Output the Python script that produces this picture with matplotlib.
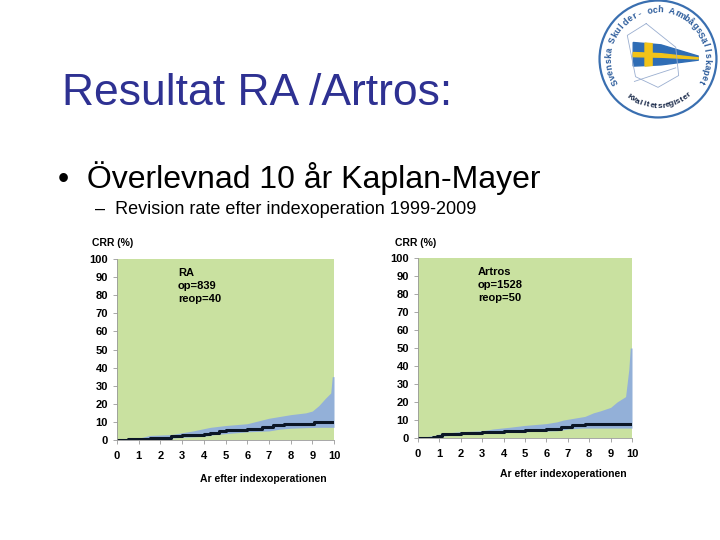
import numpy as np
import matplotlib
matplotlib.use("Agg")
from matplotlib import pyplot as plt
from matplotlib.patches import Circle, Polygon

plt.rcParams['font.family'] = ['Liberation Sans', 'DejaVu Sans']

# Kaplan-Meier cumulative revision rate, RA
ra_km_x = [0, 0.5, 1.0, 1.5, 2.0, 2.5, 3.0, 4.0, 4.3, 4.7, 5.0, 5.5, 6.0, 6.7, 7.2, 7.7, 9.1, 10]
ra_km_y = [0, 0.3, 0.5, 1.0, 1.2, 2.0, 3.0, 3.3, 4.0, 5.0, 5.3, 5.6, 6.3, 7.2, 8.2, 9.0, 10.0, 10.0]
ra_hi_x = [0, 1.0, 1.5, 2.5, 3.0, 3.5, 4.3, 5.0, 6.0, 6.5, 7.0, 7.5, 8.0, 8.7, 9.0, 9.3, 9.6, 9.85, 9.92, 10]
ra_hi_y = [0, 1.0, 2.5, 3.0, 4.0, 5.0, 7.0, 8.0, 9.0, 10.5, 12.0, 13.0, 14.0, 15.0, 16.0, 19.0, 23.0, 26.0, 35.0, 35.0]
ra_lo_x = [0, 1.0, 2.5, 3.0, 4.0, 4.5, 5.5, 6.0, 7.0, 7.5, 8.0, 9.2, 10]
ra_lo_y = [0, 0.2, 1.0, 1.5, 2.0, 3.0, 4.0, 4.5, 5.0, 6.0, 6.5, 7.0, 7.0]

# Kaplan-Meier cumulative revision rate, Artros
ar_km_x = [0, 0.7, 0.9, 1.1, 1.5, 2.0, 3.0, 3.5, 4.0, 5.0, 6.0, 6.7, 7.2, 7.8, 10]
ar_km_y = [0, 0.5, 1.0, 2.0, 2.5, 3.0, 3.2, 3.5, 4.0, 4.5, 5.0, 6.0, 7.0, 8.0, 8.0]
ar_hi_x = [0, 0.8, 1.1, 1.5, 2.0, 3.0, 3.5, 4.3, 5.0, 6.0, 6.5, 6.8, 7.3, 7.8, 8.2, 8.5, 9.0, 9.3, 9.7, 9.85, 9.92, 10]
ar_hi_y = [0, 1.5, 2.5, 3.0, 3.5, 4.0, 5.0, 6.0, 7.0, 8.0, 9.0, 10.0, 11.0, 12.0, 14.0, 15.0, 17.0, 20.0, 23.0, 38.0, 50.0, 50.0]
ar_lo_x = [0, 1.1, 2.0, 3.0, 4.0, 5.0, 6.5, 7.0, 7.7, 10]
ar_lo_y = [0, 1.0, 2.0, 2.5, 3.0, 3.5, 4.0, 5.0, 5.5, 5.5]

xticks = list(range(0, 11))
yticks = list(range(0, 101, 10))

GREEN = "#c9e1a0"
BAND = "#93b0d8"
LINE = "#0b1626"
LOGO = "#2a5a9a"


def km_panel(ax, km_x, km_y, hi_x, hi_y, lo_x, lo_y, lines):
    grid = np.linspace(0, 10, 1001)
    hi = np.interp(grid, hi_x, hi_y)
    lo = np.interp(grid, lo_x, lo_y)
    ax.set_facecolor(GREEN)
    ax.fill_between(grid, lo, hi, color=BAND, linewidth=0)
    ax.step(km_x, km_y, where="post", color=LINE, linewidth=2.2)
    ax.set_xlim(0, 10)
    ax.set_ylim(0, 100)
    ax.set_xticks(xticks)
    ax.set_yticks(yticks)
    ax.tick_params(labelsize=8, length=3, color="#999999", width=0.6)
    ax.tick_params(axis="x", pad=5)
    for lbl in ax.get_xticklabels() + ax.get_yticklabels():
        lbl.set_fontweight("bold")
    for s in ("top", "right"):
        ax.spines[s].set_visible(False)
    for s in ("left", "bottom"):
        ax.spines[s].set_color("#999999")
        ax.spines[s].set_linewidth(0.6)
    ax.text(2.8, 95, lines, fontsize=8, fontweight="bold", va="top", linespacing=1.35)


fig = plt.figure(figsize=(7.2, 5.4), dpi=100)

fig.text(62 / 720, 1 - 93 / 540, "Resultat RA /Artros:", fontsize=32, color="#2e3192", va="center")
fig.text(58 / 720, 1 - 178 / 540, "•  Överlevnad 10 år Kaplan-Mayer", fontsize=23, va="center")
fig.text(95 / 720, 1 - 209 / 540, "–  Revision rate efter indexoperation 1999-2009", fontsize=13, va="center")

ax1 = fig.add_axes([117 / 720, 1 - 440 / 540, 217 / 720, 181 / 540])
km_panel(ax1, ra_km_x, ra_km_y, ra_hi_x, ra_hi_y, ra_lo_x, ra_lo_y, "RA\nop=839\nreop=40")
fig.text(92 / 720, 1 - 243 / 540, "CRR (%)", fontsize=7.5, fontweight="bold", va="center")
fig.text(200 / 720, 1 - 479 / 540, "Ar efter indexoperationen", fontsize=7.5, fontweight="bold", va="center")

ax2 = fig.add_axes([418 / 720, 1 - 438 / 540, 214 / 720, 180 / 540])
km_panel(ax2, ar_km_x, ar_km_y, ar_hi_x, ar_hi_y, ar_lo_x, ar_lo_y, "Artros\nop=1528\nreop=50")
fig.text(395 / 720, 1 - 243 / 540, "CRR (%)", fontsize=7.5, fontweight="bold", va="center")
fig.text(500 / 720, 1 - 474 / 540, "Ar efter indexoperationen", fontsize=7.5, fontweight="bold", va="center")

# logo: ring with curved text and a small flag
lax = fig.add_axes([596 / 720, 1 - 121 / 540, 124 / 720, 124 / 540])
lax.set_xlim(-1.05, 1.05)
lax.set_ylim(-1.05, 1.05)
lax.set_aspect("equal")
lax.axis("off")
lax.add_patch(Circle((0, 0), 0.99, fill=False, ec="#3a6fb0", lw=1.6))
top_text = "Svenska Skulder- och ArmbågsSällskapet"
angles = np.linspace(208, -28, len(top_text))
for ch, a in zip(top_text, angles):
    r = 0.83
    lax.text(r * np.cos(np.radians(a)), r * np.sin(np.radians(a)), ch, fontsize=6.4,
             fontweight="bold", color=LOGO, rotation=a - 90, ha="center", va="center")
bot_text = "Kvalitetsregister"
angles = np.linspace(234, 310, len(bot_text))
for ch, a in zip(bot_text, angles):
    r = 0.8
    lax.text(r * np.cos(np.radians(a)), r * np.sin(np.radians(a)), ch, fontsize=6,
             fontweight="bold", color="#1a2a4a", rotation=a + 90, ha="center", va="center")
# teardrop outline
lax.plot([-0.2, -0.52, -0.38, 0.0, 0.35, 0.3, -0.2], [0.6, 0.4, -0.3, -0.48, -0.28, 0.2, 0.6],
         color="#9aaed0", lw=0.6)
lax.add_patch(Polygon([[-0.42, -0.12], [-0.42, 0.28], [0.05, 0.24], [0.68, 0.05], [0.68, -0.02], [0.05, -0.1]],
                      color="#2f6db5"))
lax.add_patch(Polygon([[-0.22, -0.12], [-0.22, 0.27], [-0.1, 0.26], [-0.1, -0.11]], color="#f2c318"))
lax.add_patch(Polygon([[-0.42, 0.04], [-0.42, 0.11], [0.05, 0.09], [0.68, 0.02], [0.68, 0.0], [0.05, 0.03]],
                      color="#f2c318"))
lax.plot([-0.4, -0.1, 0.3], [-0.38, -0.28, -0.15], color="#9aaed0", lw=0.6)

fig.savefig("out.png", dpi=100)
